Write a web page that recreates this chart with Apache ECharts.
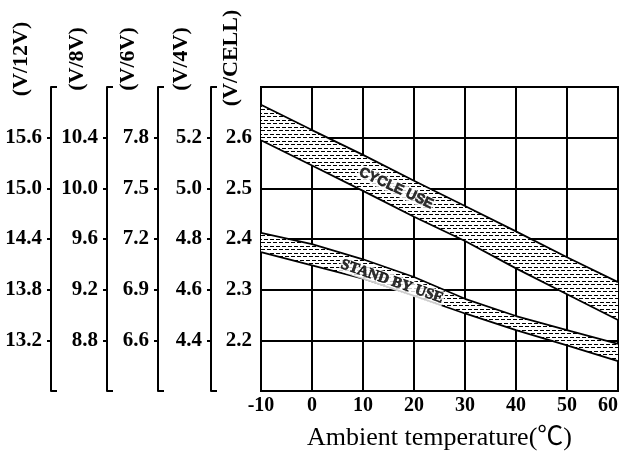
<!DOCTYPE html>
<html>
<head>
<meta charset="utf-8">
<script src="https://cdn.jsdelivr.net/npm/echarts@6/dist/echarts.min.js"></script>
<style>
  html, body { margin: 0; padding: 0; background: #fff; }
  #chart { width: 622px; height: 452px; }
</style>
</head>
<body>
<div id="chart"></div>
<script>
// ambient temperature (°C)
const temps = [-10, 0, 10, 20, 30, 40, 50, 60];
// charge voltage per cell
const cycleUpper = [2.665, 2.615, 2.566, 2.515, 2.465, 2.415, 2.364, 2.315];
const cycleLower = [2.595, 2.545, 2.495, 2.444, 2.396, 2.342, 2.291, 2.240];
const standbyUpper = [2.412, 2.390, 2.360, 2.325, 2.282, 2.248, 2.220, 2.193];
const standbyLower = [2.374, 2.348, 2.322, 2.288, 2.253, 2.220, 2.190, 2.159];

// tick labels of the five voltage scales
const cellTicks = [2.2, 2.3, 2.4, 2.5, 2.6];
const v4Ticks = [4.4, 4.6, 4.8, 5.0, 5.2];
const v6Ticks = [6.6, 6.9, 7.2, 7.5, 7.8];
const v8Ticks = [8.8, 9.2, 9.6, 10.0, 10.4];
const v12Ticks = [13.2, 13.8, 14.4, 15.0, 15.6];
const cellRange = [2.1, 2.7];
const v4Range = [4.2, 5.4];
const v6Range = [6.3, 8.1];
const v8Range = [8.4, 10.8];
const v12Range = [12.6, 16.2];

// band captions: [temperature, V/cell]
const cycleCaption = [16.5, 2.5];
const standbyCaption = [15.7, 2.316];

const black = "#000";
const serif = "'Liberation Serif', 'Times New Roman', serif";

function hatch() {
  // dashed rows like the printed band fill
  const c = document.createElement("canvas");
  c.width = 12;
  c.height = 7;
  const ctx = c.getContext("2d");
  ctx.fillStyle = "#fff";
  ctx.fillRect(0, 0, 12, 7);
  ctx.fillStyle = "#000";
  ctx.fillRect(0, 1, 4, 1);
  ctx.fillRect(6, 1, 4, 1);
  ctx.fillRect(0, 4, 1, 1);
  ctx.fillRect(3, 4, 4, 1);
  ctx.fillRect(9, 4, 3, 1);
  return c;
}

function nameStyle() {
  // tall line box pushes the rotated title left of its axis line
  return {
    color: black,
    fontFamily: serif,
    fontWeight: "bold",
    fontSize: 22,
    align: "center",
    verticalAlign: "bottom",
    lineHeight: 60,
  };
}

function labelStyle(ticks) {
  return {
    customValues: ticks,
    color: black,
    fontFamily: serif,
    fontWeight: "bold",
    fontSize: 21,
    margin: 9,
    formatter: (v) => v.toFixed(1),
  };
}

function captionLabel(text, rotate, font, size) {
  return {
    show: true,
    position: "inside",
    formatter: text,
    rotate: rotate,
    color: black,
    fontWeight: "bold",
    fontFamily: font,
    fontSize: size,
    textBorderWidth: 0.7,
    textBorderColor: black,
    backgroundColor: "#fff",
    padding: [0, 1],
  };
}

// one scale = labelled axis with outside ticks + bracket ends pointing right
function scaleAxes(name, range, ticks, offset) {
  return [
    {
      type: "value",
      position: "left",
      offset: offset,
      min: range[0],
      max: range[1],
      name: name,
      nameLocation: "end",
      nameRotate: 90,
      nameGap: 28,
      nameMoveOverlap: false,
      nameTextStyle: nameStyle(),
      axisLine: { show: true, onZero: false, lineStyle: { color: black, width: 2 } },
      axisTick: {
        show: true,
        inside: false,
        length: 4,
        customValues: ticks,
        lineStyle: { color: black, width: 2 },
      },
      axisLabel: labelStyle(ticks),
      splitLine: { show: false },
    },
    {
      type: "value",
      position: "left",
      offset: offset,
      min: range[0],
      max: range[1],
      axisLine: { show: false, onZero: false },
      axisTick: {
        show: true,
        inside: true,
        length: 6,
        customValues: range,
        lineStyle: { color: black, width: 2 },
      },
      axisLabel: { show: false },
      splitLine: { show: false },
    },
  ];
}

function diff(a, b) {
  return a.map((v, i) => +(v - b[i]).toFixed(4));
}

const chartDom = echarts.init(document.getElementById("chart"));
const lineStyle = { color: black, width: 1.8 };
const bandArea = { color: { image: hatch(), repeat: "repeat" }, opacity: 1 };

const option = {
  animation: false,
  grid: {
    left: 261,
    right: 4,
    top: 87,
    bottom: 61,
    show: true,
    borderColor: black,
    borderWidth: 2,
    backgroundColor: "transparent",
    outerBoundsMode: "none",
  },
  xAxis: [
    {
      type: "category",
      data: temps,
      boundaryGap: false,
      name: "Ambient temperature(℃)",
      nameLocation: "middle",
      nameGap: 34,
      nameTextStyle: {
        color: black,
        fontFamily: serif + ", 'Noto Sans CJK SC'",
        fontSize: 26,
      },
      axisLine: { show: true, onZero: false, lineStyle: { color: black, width: 2 } },
      axisTick: { show: false },
      axisLabel: {
        interval: 0,
        alignMaxLabel: "right",
        color: black,
        fontFamily: serif,
        fontWeight: "bold",
        fontSize: 20,
        margin: 5,
      },
      splitLine: { show: true, interval: 0, lineStyle: { color: black, width: 2 } },
    },
    {
      // same temperature scale, used to place the captions
      type: "value",
      min: -10,
      max: 60,
      show: false,
    },
  ],
  yAxis: [
    {
      type: "value",
      position: "left",
      offset: 0,
      min: cellRange[0],
      max: cellRange[1],
      interval: 0.1,
      name: "(V/CELL)",
      nameLocation: "end",
      nameRotate: 90,
      nameGap: 29,
      nameMoveOverlap: false,
      nameTextStyle: nameStyle(),
      axisLine: { show: true, onZero: false, lineStyle: { color: black, width: 2 } },
      axisTick: { show: false },
      axisLabel: labelStyle(cellTicks),
      splitLine: { show: true, lineStyle: { color: black, width: 2 } },
    },
    ...scaleAxes("(V/4V)", v4Range, v4Ticks, 50),
    ...scaleAxes("(V/6V)", v6Range, v6Ticks, 103),
    ...scaleAxes("(V/8V)", v8Range, v8Ticks, 154),
    ...scaleAxes("(V/12V)", v12Range, v12Ticks, 210),
  ],
  series: [
    {
      name: "cycle-low",
      type: "line",
      stack: "cycle",
      symbol: "none",
      lineStyle: lineStyle,
      data: cycleLower,
    },
    {
      name: "cycle-band",
      type: "line",
      stack: "cycle",
      symbol: "none",
      lineStyle: lineStyle,
      areaStyle: bandArea,
      data: diff(cycleUpper, cycleLower),
    },
    {
      name: "standby-low",
      type: "line",
      stack: "standby",
      symbol: "none",
      lineStyle: lineStyle,
      data: standbyLower,
    },
    {
      name: "standby-band",
      type: "line",
      stack: "standby",
      symbol: "none",
      lineStyle: lineStyle,
      areaStyle: bandArea,
      data: diff(standbyUpper, standbyLower),
    },
    {
      name: "captions",
      type: "scatter",
      xAxisIndex: 1,
      yAxisIndex: 0,
      z: 10,
      symbol: "rect",
      symbolSize: 1,
      itemStyle: { color: "rgba(0,0,0,0)" },
      data: [
        {
          value: cycleCaption,
          label: captionLabel("CYCLE USE", -25, "'Liberation Sans', Arial, sans-serif", 14),
        },
        {
          value: standbyCaption,
          label: captionLabel("STAND BY USE", -19, serif, 15),
        },
      ],
    },
  ],
};
chartDom.setOption(option);
</script>
</body>
</html>
